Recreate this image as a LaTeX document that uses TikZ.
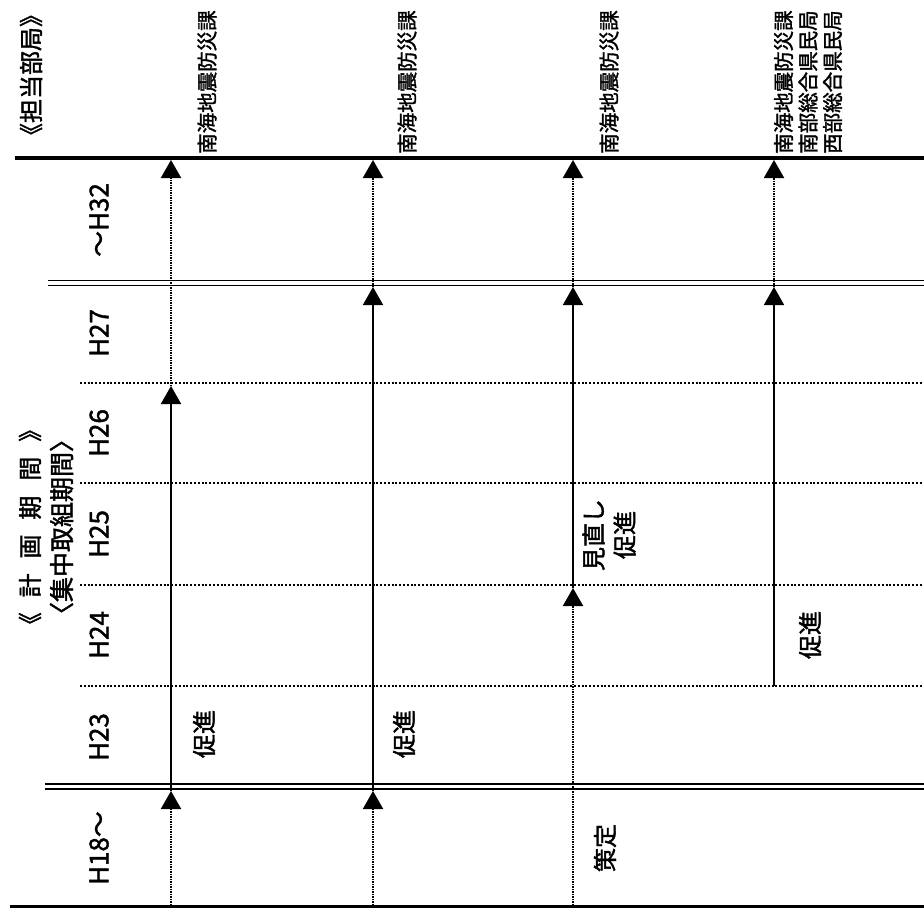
\documentclass[tikz,border=0pt]{standalone}
\usepackage{fontspec}
\setmainfont{Noto Sans CJK JP}[FakeBold=1.6]
\usetikzlibrary{arrows.meta}
\begin{document}
\begin{tikzpicture}[x=1pt,y=-1pt,
  heavy/.style={line width=3.2pt},
  dbl/.style={line width=1.7pt},
  gridln/.style={line width=2pt, dash pattern=on 2pt off 1.8pt},
  plan/.style={line width=2pt, dash pattern=on 1.4pt off 1.1pt, -{Triangle[width=20pt,length=18pt]}},
  act/.style={line width=1.7pt, -{Triangle[width=20pt,length=18pt]}},
  lbl/.style={rotate=90, inner sep=0pt, font=\fontsize{24}{31}\selectfont},
  dept/.style={rotate=90, inner sep=0pt, align=left, anchor=west, font=\fontsize{20.5}{24.5}\selectfont},
  yr/.style={rotate=90, inner sep=0pt, font=\fontsize{26}{30}\selectfont}]
\useasboundingbox (0,0) rectangle (924,913);

% horizontal rules
\draw[heavy] (15,158) -- (924,158);
\draw[dbl] (48,280.5) -- (924,280.5);
\draw[dbl] (48,285.5) -- (924,285.5);
\foreach \yy in {383,483,585,686} \draw[gridln] (80,\yy) -- (924,\yy);
\draw[dbl] (45,784) -- (924,784);
\draw[dbl] (45,789) -- (924,789);
\draw[heavy] (10,906.5) -- (924,906.5);

% left headings
\node[lbl, font=\fontsize{24}{26}\selectfont] (dep) at (31,75) {《担当部局》};
\node[lbl, align=center, font=\fontsize{24}{32}\selectfont] (period) at (46,527)
  {《\hspace{.62em}計\hspace{.62em}画\hspace{.62em}期\hspace{.62em}間\hspace{.62em}》\\\fontsize{25}{32}\selectfont〈集中取組期間〉};
\node[yr] (y32) at (99,220) {～H32};
\node[yr] (y27) at (99,333) {H27};
\node[yr] (y26) at (99,433) {H26};
\node[yr] (y25) at (99,534) {H25};
\node[yr] (y24) at (99,635) {H24};
\node[yr] (y23) at (99,737) {H23};
\node[yr] (y18) at (99,848) {H18～};

% departments
\node[dept] (d1) at (207,154) {南海地震防災課};
\node[dept] (d2) at (407,154) {南海地震防災課};
\node[dept] (d3) at (609,154) {南海地震防災課};
\node[dept] (d4) at (808,154) {南海地震防災課\\南部総合県民局\\西部総合県民局};

% column 1
\coordinate (c1bot) at (171,905);
\coordinate (c1s) at (171,791);
\coordinate (c1m) at (171,386);
\coordinate (c1top) at (171,160);
\draw[plan] (c1bot) -- (c1s);
\draw[act] (c1s) -- (c1m);
\draw[plan] (c1m) -- (c1top);
% column 2
\coordinate (c2bot) at (373,905);
\coordinate (c2s) at (373,791);
\coordinate (c2m) at (373,287);
\coordinate (c2top) at (373,160);
\draw[plan] (c2bot) -- (c2s);
\draw[act] (c2s) -- (c2m);
\draw[plan] (c2m) -- (c2top);
% column 3
\coordinate (c3bot) at (573,905);
\coordinate (c3s) at (573,588);
\coordinate (c3m) at (573,287);
\coordinate (c3top) at (573,160);
\draw[plan] (c3bot) -- (c3s);
\draw[act] (c3s) -- (c3m);
\draw[plan] (c3m) -- (c3top);
% column 4
\coordinate (c4s) at (774,686);
\coordinate (c4m) at (774,287);
\coordinate (c4top) at (774,160);
\draw[act] (c4s) -- (c4m);
\draw[plan] (c4m) -- (c4top);

% labels
\node[lbl] (p1) at (204,734) {促進};
\node[lbl] (p2) at (404,734) {促進};
\node[lbl, align=center] (p3) at (609,535) {見直し\\促進};
\node[lbl] (p4) at (810,635) {促進};
\node[lbl] (s3) at (605,848) {策定};
\end{tikzpicture}
\end{document}
